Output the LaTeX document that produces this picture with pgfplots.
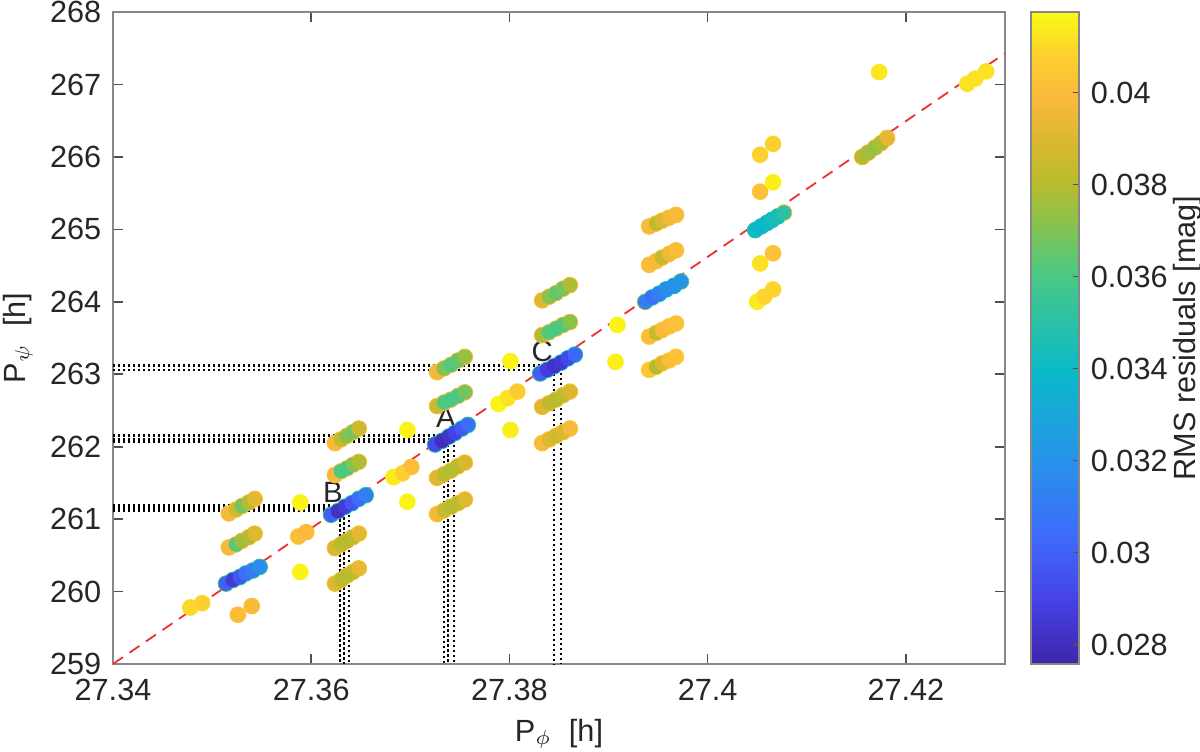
\documentclass[border=0pt]{standalone}
\usepackage{fontspec}
\setmainfont{Liberation Sans}
\usepackage{pgfplots}
\usepackage{pgfplotstable}
\pgfplotsset{compat=1.18}

\definecolor{axgray}{RGB}{135,135,135}
\definecolor{tickgray}{RGB}{80,80,80}
\definecolor{txt}{RGB}{38,38,38}
\definecolor{fitred}{RGB}{238,50,50}

\pgfplotsset{
  colormap={parula}{
    rgb255(0pt)=(62,38,168); rgb255(10pt)=(70,66,232); rgb255(20pt)=(62,108,250);
    rgb255(30pt)=(42,142,236); rgb255(40pt)=(22,172,214); rgb255(45pt)=(10,185,200);
    rgb255(52pt)=(40,193,168); rgb255(60pt)=(75,201,130); rgb255(68pt)=(140,194,75);
    rgb255(74pt)=(186,188,45); rgb255(80pt)=(218,184,48); rgb255(87pt)=(251,186,60);
    rgb255(93pt)=(253,206,48); rgb255(100pt)=(249,250,20)},
  every tick label/.append style={font=\fontsize{9.2pt}{11pt}\selectfont, text=txt},
  /pgf/number format/assume math mode=true,
}

% P_phi  P_psi  halo-RMS  core-RMS
\pgfplotstableread{
x y h c
27.3517 261.08 0.0400 0.0398
27.3524 261.13 0.0400 0.0386
27.3530 261.18 0.0400 0.0368
27.3537 261.23 0.0400 0.0380
27.3543 261.28 0.0402 0.0392
27.3517 260.61 0.0400 0.0398
27.3524 260.65 0.0400 0.0363
27.3530 260.70 0.0400 0.0376
27.3537 260.75 0.0400 0.0380
27.3543 260.80 0.0402 0.0390
27.3514 260.11 0.0360 0.0300
27.3521 260.16 0.0352 0.0286
27.3528 260.20 0.0348 0.0297
27.3534 260.25 0.0348 0.0305
27.3541 260.29 0.0350 0.0310
27.3548 260.34 0.0355 0.0318
27.3526 259.68 0.0402 0.0400
27.3540 259.80 0.0402 0.0398
27.3478 259.78 0.0410 0.0410
27.3490 259.84 0.0410 0.0408
27.3589 260.27 0.0416 0.0416
27.3587 260.76 0.0402 0.0401
27.3595 260.82 0.0402 0.0399
27.3589 261.23 0.0416 0.0416
27.3624 262.05 0.0400 0.0398
27.3630 262.10 0.0400 0.0382
27.3636 262.15 0.0400 0.0372
27.3642 262.20 0.0400 0.0368
27.3648 262.25 0.0400 0.0385
27.3624 261.61 0.0400 0.0398
27.3630 261.66 0.0400 0.0362
27.3636 261.70 0.0400 0.0360
27.3642 261.75 0.0400 0.0370
27.3648 261.79 0.0400 0.0378
27.3620 261.06 0.0358 0.0300
27.3627 261.11 0.0350 0.0282
27.3634 261.17 0.0345 0.0286
27.3641 261.22 0.0345 0.0296
27.3648 261.28 0.0348 0.0304
27.3655 261.33 0.0352 0.0312
27.3624 260.60 0.0400 0.0388
27.3630 260.65 0.0400 0.0381
27.3636 260.70 0.0400 0.0380
27.3642 260.75 0.0400 0.0382
27.3648 260.80 0.0402 0.0392
27.3624 260.11 0.0400 0.0390
27.3630 260.16 0.0400 0.0382
27.3636 260.22 0.0400 0.0380
27.3642 260.27 0.0400 0.0382
27.3648 260.32 0.0402 0.0393
27.3683 261.58 0.0414 0.0414
27.3692 261.63 0.0410 0.0408
27.3701 261.72 0.0403 0.0401
27.3697 262.23 0.0416 0.0416
27.3697 261.24 0.0416 0.0416
27.3727 263.03 0.0400 0.0396
27.3734 263.08 0.0400 0.0370
27.3741 263.13 0.0400 0.0362
27.3748 263.19 0.0400 0.0365
27.3755 263.24 0.0400 0.0375
27.3727 262.56 0.0398 0.0385
27.3734 262.61 0.0398 0.0362
27.3741 262.65 0.0398 0.0360
27.3748 262.70 0.0398 0.0360
27.3755 262.75 0.0398 0.0368
27.3725 262.03 0.0352 0.0292
27.3732 262.08 0.0345 0.0280
27.3739 262.14 0.0342 0.0283
27.3745 262.19 0.0342 0.0290
27.3752 262.25 0.0345 0.0298
27.3758 262.30 0.0350 0.0305
27.3727 261.57 0.0400 0.0390
27.3734 261.62 0.0400 0.0381
27.3741 261.67 0.0400 0.0379
27.3748 261.73 0.0400 0.0381
27.3755 261.78 0.0402 0.0388
27.3727 261.07 0.0402 0.0396
27.3734 261.12 0.0402 0.0384
27.3741 261.17 0.0402 0.0380
27.3748 261.22 0.0402 0.0382
27.3755 261.27 0.0402 0.0390
27.3789 262.59 0.0416 0.0416
27.3798 262.67 0.0412 0.0412
27.3808 262.76 0.0408 0.0406
27.3801 262.23 0.0415 0.0415
27.3801 263.18 0.0416 0.0416
27.3833 264.02 0.0400 0.0390
27.3840 264.07 0.0400 0.0372
27.3847 264.12 0.0400 0.0365
27.3854 264.18 0.0400 0.0368
27.3861 264.23 0.0400 0.0378
27.3833 263.54 0.0398 0.0378
27.3840 263.58 0.0398 0.0362
27.3847 263.63 0.0398 0.0360
27.3854 263.68 0.0398 0.0362
27.3861 263.72 0.0398 0.0372
27.3831 263.01 0.0355 0.0300
27.3838 263.06 0.0348 0.0287
27.3845 263.11 0.0342 0.0283
27.3852 263.16 0.0340 0.0285
27.3859 263.22 0.0340 0.0292
27.3866 263.27 0.0348 0.0302
27.3833 262.55 0.0400 0.0390
27.3840 262.60 0.0400 0.0382
27.3847 262.65 0.0400 0.0380
27.3854 262.71 0.0400 0.0382
27.3861 262.76 0.0402 0.0389
27.3833 262.05 0.0403 0.0398
27.3840 262.10 0.0403 0.0390
27.3847 262.15 0.0403 0.0387
27.3854 262.20 0.0403 0.0390
27.3861 262.25 0.0403 0.0398
27.3909 263.68 0.0416 0.0416
27.3907 263.17 0.0415 0.0415
27.3941 265.04 0.0402 0.0398
27.3948 265.08 0.0402 0.0382
27.3954 265.12 0.0402 0.0390
27.3961 265.16 0.0402 0.0396
27.3968 265.20 0.0402 0.0398
27.3941 264.51 0.0403 0.0400
27.3948 264.56 0.0403 0.0397
27.3954 264.61 0.0403 0.0384
27.3961 264.66 0.0403 0.0396
27.3968 264.71 0.0403 0.0400
27.3937 264.00 0.0372 0.0312
27.3944 264.06 0.0345 0.0305
27.3951 264.11 0.0340 0.0312
27.3958 264.17 0.0340 0.0318
27.3966 264.22 0.0340 0.0320
27.3973 264.28 0.0360 0.0322
27.3941 263.52 0.0405 0.0400
27.3948 263.57 0.0405 0.0384
27.3954 263.61 0.0405 0.0398
27.3961 263.66 0.0405 0.0400
27.3968 263.70 0.0405 0.0402
27.3941 263.06 0.0408 0.0404
27.3948 263.10 0.0408 0.0380
27.3954 263.15 0.0408 0.0390
27.3961 263.19 0.0408 0.0400
27.3968 263.24 0.0408 0.0402
27.4053 266.03 0.0410 0.0408
27.4066 266.18 0.0410 0.0408
27.4053 265.52 0.0404 0.0402
27.4066 265.65 0.0416 0.0415
27.4048 264.99 0.0350 0.0340
27.4054 265.04 0.0345 0.0338
27.4060 265.09 0.0342 0.0340
27.4065 265.13 0.0342 0.0343
27.4071 265.18 0.0345 0.0345
27.4077 265.23 0.0398 0.0350
27.4053 264.53 0.0413 0.0412
27.4066 264.67 0.0404 0.0402
27.4050 264.00 0.0414 0.0414
27.4057 264.07 0.0410 0.0409
27.4066 264.17 0.0410 0.0409
27.4156 266.00 0.0395 0.0380
27.4162 266.06 0.0392 0.0376
27.4169 266.13 0.0392 0.0375
27.4175 266.19 0.0398 0.0378
27.4181 266.26 0.0400 0.0392
27.4173 267.17 0.0414 0.0413
27.4262 267.01 0.0412 0.0412
27.4270 267.08 0.0412 0.0412
27.4281 267.18 0.0412 0.0412
}\pts

\begin{document}
\begin{tikzpicture}
\useasboundingbox (-33.9pt,-26.4pt) rectangle (326.1pt,199.2pt);
\begin{axis}[
  at={(0pt,0pt)}, anchor=south west,
  scale only axis, width=267.6pt, height=195.6pt,
  xmin=27.34, xmax=27.43, ymin=259, ymax=268,
  xtick={27.34,27.36,27.38,27.40,27.42},
  ytick={259,260,261,262,263,264,265,266,267,268},
  scaled x ticks=false,
  xticklabel style={/pgf/number format/fixed, /pgf/number format/precision=2, yshift=-1pt},
  tick align=inside, major tick length=3pt,
  axis line style={axgray, line width=0.6pt},
  tick style={tickgray, line width=0.5pt},
  xlabel={P$_\phi$\ \ [h]}, ylabel={P$_\psi$\ \ [h]},
  label style={font=\fontsize{9.2pt}{11pt}\selectfont, text=txt},
  xlabel style={at={(rel axis cs:0.5,0)}, anchor=center, yshift=-21pt},
  ylabel style={at={(rel axis cs:0,0.5)}, anchor=center, rotate=0, yshift=28.5pt},
  colormap name=parula,
  point meta min=0.02758, point meta max=0.04175,
  scatter/use mapped color={draw=mapped color, fill=mapped color},
  colorbar,
  colorbar style={
    at={(parent axis.north east)}, anchor=north west, xshift=-0.7pt,
    width=14.4pt,
    ytick={0.028,0.030,0.032,0.034,0.036,0.038,0.040},
    scaled y ticks=false,
    yticklabel style={/pgf/number format/fixed, /pgf/number format/precision=3},
    ytick pos=right, yticklabel pos=right,
    tick align=inside, major tick length=1.8pt,
    axis line style={axgray, line width=0.6pt},
    tick style={tickgray, line width=0.5pt},
    ylabel={RMS residuals [mag]},
    ylabel style={at={(rel axis cs:1,0.5)}, anchor=center, yshift=-32.5pt,
      font=\fontsize{9.2pt}{11pt}\selectfont, text=txt},
  },
  dotline/.style={black, line width=0.8pt, dash pattern=on 0.7pt off 0.8pt},
]
% P_psi / P_phi reference ratio
\addplot[fitred, line width=0.55pt, dash pattern=on 3.6pt off 2.4pt] coordinates {(27.34,259.0) (27.43,267.43)};

% each grid solution: outer ring then core, coloured by RMS
\addplot[scatter, only marks, mark=*, mark size=2.3pt, point meta=explicit]
  table[x=x, y=y, meta=h] {\pts};
\addplot[scatter, only marks, mark=*, mark size=2.0pt, point meta=explicit]
  table[x=x, y=y, meta=c] {\pts};

% projections of the solutions A, B and C onto both axes
\addplot[dotline] coordinates {(27.34,261.11) (27.3629,261.11) (27.3629,259)};
\addplot[dotline] coordinates {(27.34,261.15) (27.3633,261.15) (27.3633,259)};
\addplot[dotline] coordinates {(27.34,261.185) (27.3638,261.185) (27.3638,259)};
\addplot[dotline] coordinates {(27.34,262.07) (27.3734,262.07) (27.3734,259)};
\addplot[dotline] coordinates {(27.34,262.10) (27.3738,262.10) (27.3738,259)};
\addplot[dotline] coordinates {(27.34,262.15) (27.3744,262.15) (27.3744,259)};
\addplot[dotline] coordinates {(27.34,263.06) (27.3845,263.06) (27.3845,259)};
\addplot[dotline] coordinates {(27.34,263.12) (27.3852,263.12) (27.3852,259)};

\node[font=\fontsize{8.8pt}{10pt}\selectfont, text=txt] at (axis cs:27.3736,262.40) {A};
\node[font=\fontsize{8.8pt}{10pt}\selectfont, text=txt] at (axis cs:27.3622,261.37) {B};
\node[font=\fontsize{8.8pt}{10pt}\selectfont, text=txt] at (axis cs:27.3833,263.31) {C};
\end{axis}
\end{tikzpicture}
\end{document}
